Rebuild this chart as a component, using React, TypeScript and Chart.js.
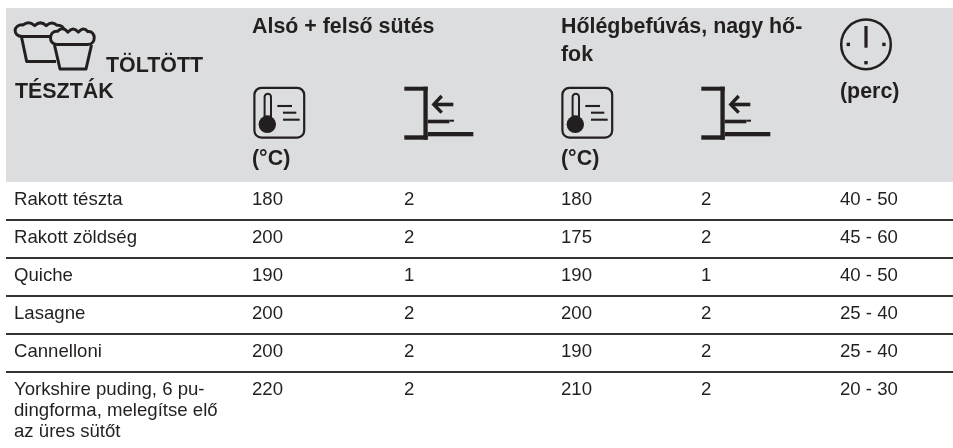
import React, { useEffect, useRef } from "react";
import { Chart, registerables } from "chart.js";

Chart.register(...registerables);

// ---- table content ----
const dishes = [
  ["Rakott tészta"],
  ["Rakott zöldség"],
  ["Quiche"],
  ["Lasagne"],
  ["Cannelloni"],
  ["Yorkshire puding, 6 pu-", "dingforma, melegítse elő", "az üres sütőt"],
];
const topBottomTemp = [180, 200, 190, 200, 200, 220];
const topBottomLevel = [2, 2, 1, 2, 2, 2];
const fanTemp = [180, 175, 190, 200, 190, 210];
const fanLevel = [2, 2, 1, 2, 2, 2];
const minutes = ["40 - 50", "45 - 60", "40 - 50", "25 - 40", "25 - 40", "20 - 30"];

// ---- layout in scale units (page pixels) ----
const columnX = [14, 252, 404, 561, 701, 840];
const rowBaseline = [205, 243, 281, 318.5, 356.5, 394.5];
const separators = [219.5, 257.5, 295.5, 333.5, 371.5];
const lineGap = 21;
const headerBottom = 182;

const INK = "#231f20";
const GRAY = "#dcddde";
const BODY_FONT = '18.6px "Liberation Sans", Arial, sans-serif';
const HEAD_FONT = 'bold 21.4px "Liberation Sans", Arial, sans-serif';

const headerTexts: [string, number, number][] = [
  ["TÖLTÖTT", 106, 72],
  ["TÉSZTÁK", 15, 98],
  ["Alsó + felső sütés", 252, 33],
  ["Hőlégbefúvás, nagy hő-", 561, 33],
  ["fok", 561, 61],
  ["(°C)", 252, 165],
  ["(°C)", 561, 165],
  ["(perc)", 840, 98],
];

function drawMuffins(c: CanvasRenderingContext2D) {
  c.lineWidth = 3;
  c.lineJoin = "round";
  c.lineCap = "butt";
  const cap = (x: number, y: number, w: number, h: number) => {
    c.beginPath();
    c.moveTo(x + w * 0.14, y + h);
    c.bezierCurveTo(x - w * 0.06, y + h, x - w * 0.06, y + h * 0.15, x + w * 0.16, y + h * 0.2);
    c.quadraticCurveTo(x + w * 0.27, y - h * 0.12, x + w * 0.4, y + h * 0.25);
    c.quadraticCurveTo(x + w * 0.52, y - h * 0.12, x + w * 0.64, y + h * 0.25);
    c.quadraticCurveTo(x + w * 0.76, y - h * 0.1, x + w * 0.86, y + h * 0.22);
    c.bezierCurveTo(x + w * 1.06, y + h * 0.15, x + w * 1.06, y + h, x + w * 0.86, y + h);
    c.closePath();
    c.fillStyle = GRAY;
    c.fill();
    c.stroke();
  };
  // left muffin
  cap(15.5, 22, 48, 14.5);
  c.beginPath();
  c.moveTo(21.5, 37);
  c.lineTo(26.7, 61.5);
  c.lineTo(56, 61.5);
  c.stroke();
  // right muffin
  cap(50.8, 28, 43, 16.5);
  c.beginPath();
  c.moveTo(54.5, 45);
  c.lineTo(60, 69);
  c.lineTo(86, 69);
  c.lineTo(91.5, 45);
  c.stroke();
}

function drawThermo(c: CanvasRenderingContext2D, dx: number) {
  c.save();
  c.translate(dx, 0);
  c.strokeStyle = INK;
  c.fillStyle = INK;
  c.lineWidth = 2.2;
  c.beginPath();
  c.roundRect(254.4, 87.8, 49.8, 49.8, 7);
  c.stroke();
  c.lineWidth = 2;
  c.beginPath();
  c.moveTo(264.6, 118);
  c.lineTo(264.6, 97);
  c.arc(267.8, 97, 3.2, Math.PI, 0);
  c.lineTo(271, 118);
  c.stroke();
  c.beginPath();
  c.arc(267.3, 124.3, 8.7, 0, Math.PI * 2);
  c.fill();
  c.fillRect(264, 115.5, 8, 6);
  c.lineWidth = 2.1;
  [[277.3, 292, 106], [283, 296.3, 112.7], [283, 299.7, 119.7]].forEach(([a, b, y]) => {
    c.beginPath();
    c.moveTo(a, y);
    c.lineTo(b, y);
    c.stroke();
  });
  c.restore();
}

function drawShelf(c: CanvasRenderingContext2D, dx: number) {
  c.save();
  c.translate(dx, 0);
  c.fillStyle = INK;
  c.strokeStyle = INK;
  c.fillRect(404.3, 86.7, 23.4, 4);
  c.fillRect(423.4, 86.7, 4.3, 53);
  c.fillRect(404.3, 135.3, 23.4, 4.4);
  c.fillRect(427.7, 132, 45.6, 4.3);
  c.fillRect(427.7, 119.7, 21.6, 3.6);
  c.fillRect(449.3, 119.7, 4.7, 2);
  c.fillRect(436, 102.7, 17.3, 3.6);
  c.lineWidth = 3.4;
  c.lineJoin = "miter";
  c.beginPath();
  c.moveTo(441.7, 96);
  c.lineTo(433.8, 104.4);
  c.lineTo(441.7, 112.7);
  c.stroke();
  c.restore();
}

function drawClock(c: CanvasRenderingContext2D) {
  c.strokeStyle = INK;
  c.fillStyle = INK;
  c.lineWidth = 2.5;
  c.beginPath();
  c.arc(866, 44.4, 24.8, 0, Math.PI * 2);
  c.stroke();
  c.fillRect(864.4, 26, 3.2, 21.7);
  c.fillRect(846.6, 42.7, 3.4, 3.4);
  c.fillRect(882.2, 42.7, 3.4, 3.4);
  c.fillRect(864.3, 61, 3.4, 3.4);
}

const tablePlugin = {
  id: "tablePlugin",
  beforeDatasetsDraw(chart: any) {
    const { ctx, scales } = chart;
    const { x, y } = scales;
    ctx.save();
    ctx.fillStyle = GRAY;
    const top = y.getPixelForValue(8);
    ctx.fillRect(x.left, top, x.right - x.left, y.getPixelForValue(headerBottom) - top);
    ctx.restore();
  },
  afterDatasetsDraw(chart: any) {
    const { ctx, scales } = chart;
    const { x, y } = scales;
    ctx.save();
    ctx.strokeStyle = INK;
    ctx.textBaseline = "alphabetic";
    ctx.textAlign = "left";
    drawMuffins(ctx);
    drawThermo(ctx, 0);
    drawThermo(ctx, 308);
    drawShelf(ctx, 0);
    drawShelf(ctx, 297);
    drawClock(ctx);
    ctx.fillStyle = INK;
    ctx.font = HEAD_FONT;
    headerTexts.forEach(([t, tx, ty]) =>
      ctx.fillText(t, x.getPixelForValue(tx), y.getPixelForValue(ty))
    );
    ctx.font = BODY_FONT;
    chart.data.datasets.forEach((ds: any) => {
      ds.data.forEach((p: any) => {
        const lines = Array.isArray(p.text) ? p.text : [String(p.text)];
        lines.forEach((l: string, i: number) =>
          ctx.fillText(l, x.getPixelForValue(p.x), y.getPixelForValue(p.y + i * lineGap))
        );
      });
    });
    ctx.restore();
  },
};

const columns: { label: string; values: (string | number | string[])[] }[] = [
  { label: "Étel", values: dishes },
  { label: "Alsó + felső sütés °C", values: topBottomTemp },
  { label: "Alsó + felső sütés szint", values: topBottomLevel },
  { label: "Hőlégbefúvás °C", values: fanTemp },
  { label: "Hőlégbefúvás szint", values: fanLevel },
  { label: "perc", values: minutes },
];

export default function App() {
  const ref = useRef<HTMLCanvasElement>(null);
  useEffect(() => {
    if (!ref.current) return;
    const chart = new Chart(ref.current, {
      type: "scatter",
      data: {
        datasets: columns.map((col, ci) => ({
          label: col.label,
          pointRadius: 0,
          data: col.values.map((v, ri) => ({ x: columnX[ci], y: rowBaseline[ri], text: v })),
        })),
      } as any,
      options: {
        animation: false,
        responsive: false,
        layout: { padding: { left: 6, top: 8, right: 0, bottom: 0 } },
        plugins: { legend: { display: false }, tooltip: { enabled: false }, title: { display: false } },
        scales: {
          x: { type: "linear", min: 6, max: 953, display: false },
          y: {
            type: "linear",
            min: 8,
            max: 448,
            reverse: true,
            afterBuildTicks: (s: any) => {
              s.ticks = separators.map((value) => ({ value }));
            },
            border: { display: false },
            ticks: { display: false },
            grid: { color: "#333333", lineWidth: 2, drawTicks: false },
          },
        },
      },
      plugins: [tablePlugin],
    } as any);
    return () => chart.destroy();
  }, []);
  return (
    <div style={{ position: "fixed", left: 0, top: 0, width: 953, height: 448, background: "#fff" }}>
      <canvas ref={ref} width={953} height={448} style={{ display: "block" }} />
    </div>
  );
}
